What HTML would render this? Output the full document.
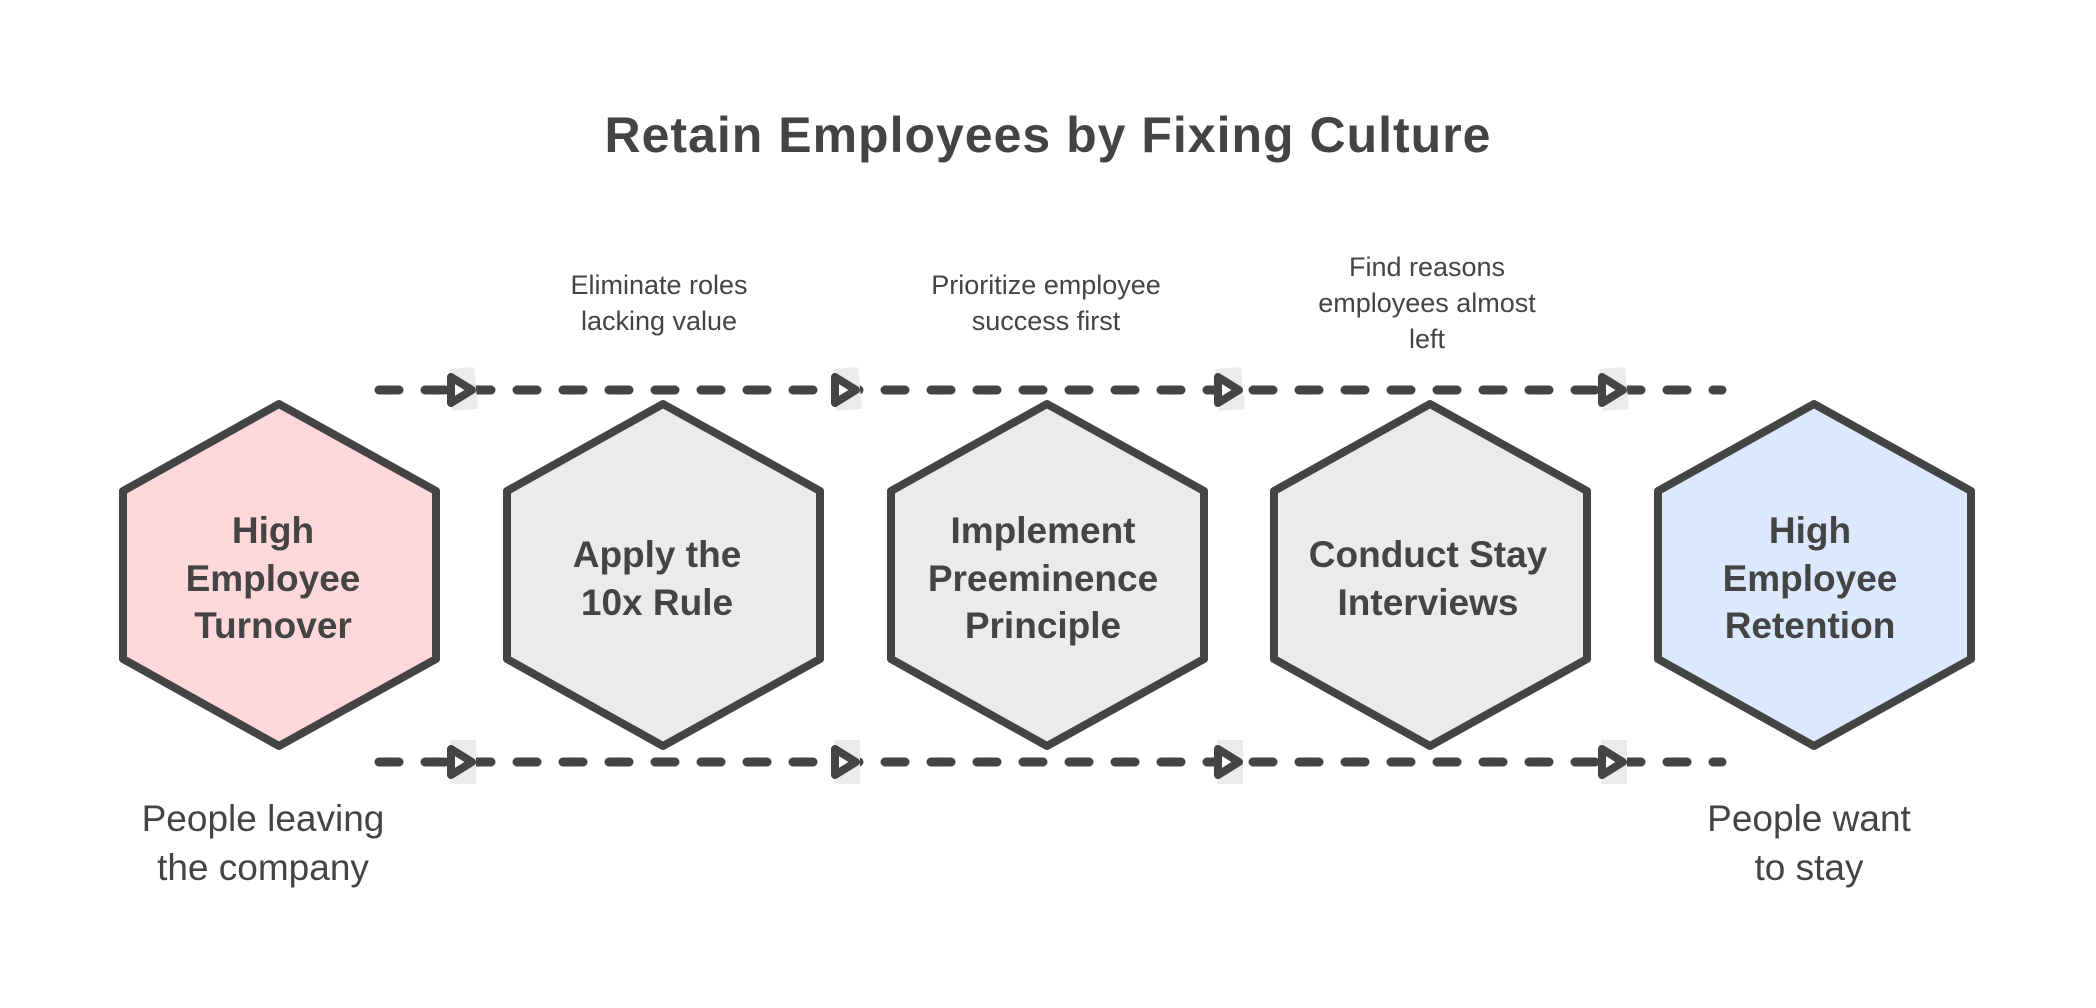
<!DOCTYPE html>
<html><head><meta charset="utf-8"><style>
html,body{margin:0;padding:0;background:#fff;width:2096px;height:1008px;overflow:hidden}
svg{display:block}
.t{font-family:"Liberation Sans",sans-serif;fill:#444;text-anchor:middle}
</style></head><body>
<svg width="2096" height="1008" viewBox="0 0 2096 1008" xmlns="http://www.w3.org/2000/svg">
<text class="t" x="1048" y="152" font-size="50" font-weight="bold" letter-spacing="1">Retain Employees by Fixing Culture</text>

<g stroke="#444" stroke-width="9" stroke-dasharray="20 26" stroke-linecap="round" fill="none">
<line x1="379" y1="390" x2="1722" y2="390"/>
<line x1="379" y1="762" x2="1722" y2="762"/>
</g>
<g fill="#ebebeb">
<rect x="450" y="368" width="26" height="42" transform="rotate(-5 463 389)"/>
<rect x="834" y="368" width="26" height="42" transform="rotate(-5 847 389)"/>
<rect x="1217" y="368" width="26" height="42" transform="rotate(-5 1230 389)"/>
<rect x="1601" y="368" width="26" height="42" transform="rotate(-5 1614 389)"/>
<rect x="450" y="740" width="26" height="44"/>
<rect x="834" y="740" width="26" height="44"/>
<rect x="1217" y="740" width="26" height="44"/>
<rect x="1601" y="740" width="26" height="44"/>
</g>
<g stroke="#444" stroke-width="8" stroke-linejoin="round" fill="#fff">
<path d="M451 377 L472 390 L451 403 Z"/><path d="M835 377 L856 390 L835 403 Z"/>
<path d="M1218 377 L1239 390 L1218 403 Z"/><path d="M1602 377 L1623 390 L1602 403 Z"/>
<path d="M451 749 L472 762 L451 775 Z"/><path d="M835 749 L856 762 L835 775 Z"/>
<path d="M1218 749 L1239 762 L1218 775 Z"/><path d="M1602 749 L1623 762 L1602 775 Z"/>
</g>

<g stroke="#444" stroke-width="8" stroke-linejoin="round">
<polygon fill="#ffd9d9" points="279,404 436,491 436,659 279,746 123,659 123,491"/>
<polygon fill="#ebebeb" points="663,404 820,491 820,659 663,746 507,659 507,491"/>
<polygon fill="#ebebeb" points="1047,404 1204,491 1204,659 1047,746 891,659 891,491"/>
<polygon fill="#ebebeb" points="1430,404 1587,491 1587,659 1430,746 1274,659 1274,491"/>
<polygon fill="#dbe8fd" points="1814,404 1971,491 1971,659 1814,746 1658,659 1658,491"/>
</g>

<g class="t" font-size="37" font-weight="bold">
<text x="273" y="543">High</text><text x="273" y="591">Employee</text><text x="273" y="638">Turnover</text>
<text x="657" y="567">Apply the</text><text x="657" y="615">10x Rule</text>
<text x="1043" y="543">Implement</text><text x="1043" y="591">Preeminence</text><text x="1043" y="638">Principle</text>
<text x="1428" y="567">Conduct Stay</text><text x="1428" y="615">Interviews</text>
<text x="1810" y="543">High</text><text x="1810" y="591">Employee</text><text x="1810" y="638">Retention</text>
</g>

<g class="t" font-size="27">
<text x="659" y="294">Eliminate roles</text><text x="659" y="330">lacking value</text>
<text x="1046" y="294">Prioritize employee</text><text x="1046" y="330">success first</text>
<text x="1427" y="276">Find reasons</text><text x="1427" y="312">employees almost</text><text x="1427" y="348">left</text>
</g>
<g class="t" font-size="37">
<text x="263" y="831">People leaving</text><text x="263" y="880">the company</text>
<text x="1809" y="831">People want</text><text x="1809" y="880">to stay</text>
</g>
</svg>
</body></html>
